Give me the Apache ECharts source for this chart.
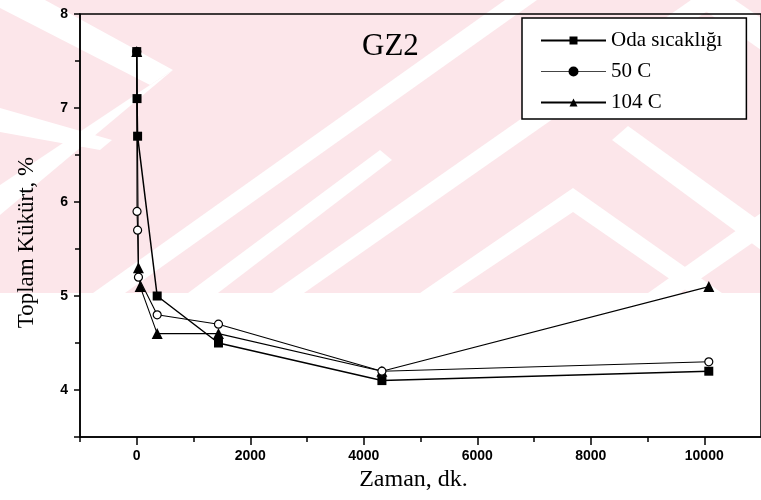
<!DOCTYPE html>
<html><head><meta charset="utf-8">
<script src="https://cdn.jsdelivr.net/npm/echarts@6/dist/echarts.min.js"></script>
<style>html,body{margin:0;padding:0;background:#fff}#c{width:761px;height:500px}</style>
</head><body><div id="c"></div>
<script>
// ---- data (time in minutes, total sulphur %) ----
const seriesNames = ['Oda sıcaklığı', '50 C', '104 C'];
const odaX  = [0, 5, 15, 360, 1440, 4320, 10080];
const odaY  = [7.6, 7.1, 6.7, 5.0, 4.5, 4.1, 4.2];
const c50X  = [0, 5, 15, 30, 360, 1440, 4320, 10080];
const c50Y  = [7.6, 5.9, 5.7, 5.2, 4.8, 4.7, 4.2, 4.3];
const c104X = [0, 30, 60, 360, 1440, 4320, 10080];
const c104Y = [7.6, 5.3, 5.1, 4.6, 4.6, 4.2, 5.1];
const xTickLabels = [0, 2000, 4000, 6000, 8000, 10000];
const xMinorTicks = [-1000, 1000, 3000, 5000, 7000, 9000];
const yTickLabels = [4, 5, 6, 7, 8];
const yMinorTicks = [3.5, 4.5, 5.5, 6.5, 7.5];
const titleText = 'GZ2';
const xName = 'Zaman, dk.';
const yName = 'Toplam Kükürt, %';

const pair = (xs, ys) => xs.map((x, i) => [x, ys[i]]);
const serif = '"Liberation Serif", "DejaVu Serif", serif';
const sans = '"Liberation Sans", Arial, sans-serif';

// watermark-like background bands (decoration only)
const pink = '#fce6ea';
function band(pts) { return { type: 'polygon', z: -10, silent: true, shape: { points: pts }, style: { fill: '#fff' } }; }
const deco = [
  { type: 'rect', z: -11, silent: true, shape: { x: 0, y: 0, width: 761, height: 293 }, style: { fill: pink } },
  band([[0,0],[45,0],[173,70],[150,85],[0,8]]),
  band([[150,85],[173,70],[0,215],[0,185]]),
  band([[0,108],[0,132],[100,150],[112,140]]),
  band([[93,293],[125,293],[537,0],[505,0]]),
  band([[188,293],[218,293],[392,160],[380,150]]),
  band([[272,293],[304,293],[723,0],[691,0]]),
  band([[420,293],[452,293],[573,212],[690,293],[722,293],[573,188]]),
  band([[612,140],[628,126],[761,222],[761,250]]),
  band([[648,293],[680,293],[761,237],[761,213]]),
  band([[690,0],[735,0],[761,18],[761,50]])
];

const chart = echarts.init(document.getElementById('c'), null, { renderer: 'canvas' });
const axisLineStyle = { color: '#000', width: 1.5 };
const plainNum = v => String(v);
chart.setOption({
  animation: false,
  backgroundColor: '#fff',
  graphic: deco,
  title: {
    text: titleText, left: 357, top: 26,
    textStyle: { fontFamily: serif, fontSize: 31, fontWeight: 'normal', color: '#000' }
  },
  legend: {
    orient: 'vertical', left: 522, top: 18,
    padding: [12, 24, 6, 18],
    itemWidth: 65, itemHeight: 10, itemGap: 10,
    backgroundColor: '#fff', borderColor: '#000', borderWidth: 1.5,
    textStyle: { fontFamily: serif, fontSize: 21, color: '#000', lineHeight: 20 },
    data: [
      { name: seriesNames[0] },
      { name: seriesNames[1], itemStyle: { color: '#000' }, lineStyle: { color: '#444', width: 1 } },
      { name: seriesNames[2] }
    ]
  },
  grid: { left: 80, right: -6, top: 14, bottom: 63, show: true, borderColor: '#000', borderWidth: 1.5, backgroundColor: 'transparent' },
  xAxis: [
    {
      type: 'value', min: -1000, max: 11000, position: 'bottom',
      name: xName, nameLocation: 'middle', nameGap: 28,
      nameTextStyle: { fontFamily: serif, fontSize: 24, color: '#000', padding: [0, 14, 0, 0] },
      axisLine: { onZero: false, lineStyle: axisLineStyle },
      axisTick: { customValues: xTickLabels, length: 8, lineStyle: { color: '#000', width: 1.5 } },
      axisLabel: { customValues: xTickLabels, formatter: plainNum, margin: 12, fontFamily: sans, fontWeight: 'bold', fontSize: 14, color: '#000' },
      splitLine: { show: false }
    },
    {
      type: 'value', min: -1000, max: 11000, position: 'bottom',
      axisLine: { show: false, onZero: false },
      axisTick: { customValues: xMinorTicks, length: 5, lineStyle: { color: '#000', width: 1.5 } },
      axisLabel: { show: false }, splitLine: { show: false }
    }
  ],
  yAxis: [
    {
      type: 'value', min: 3.5, max: 8, position: 'left',
      name: yName, nameLocation: 'middle', nameGap: 42,
      nameTextStyle: { fontFamily: serif, fontSize: 23, color: '#000', padding: [0, 34, 0, 0] },
      axisLine: { onZero: false, lineStyle: axisLineStyle },
      axisTick: { customValues: yTickLabels.concat([3.5]), length: 6, lineStyle: { color: '#000', width: 1.5 } },
      axisLabel: { customValues: yTickLabels, formatter: plainNum, margin: 12, fontFamily: sans, fontWeight: 'bold', fontSize: 14, color: '#000' },
      splitLine: { show: false }
    },
    {
      type: 'value', min: 3.5, max: 8, position: 'left',
      axisLine: { show: false, onZero: false },
      axisTick: { customValues: yMinorTicks, length: 5, lineStyle: { color: '#000', width: 1.5 } },
      axisLabel: { show: false }, splitLine: { show: false }
    }
  ],
  series: [
    {
      name: seriesNames[0], type: 'line', data: pair(odaX, odaY),
      symbol: 'rect', symbolSize: 9, z: 5,
      lineStyle: { color: '#000', width: 1.5 }, itemStyle: { color: '#000' }
    },
    {
      name: seriesNames[1], type: 'line', data: pair(c50X, c50Y),
      symbol: 'circle', symbolSize: 8, z: 4,
      lineStyle: { color: '#000', width: 1.1 },
      itemStyle: { color: '#fff', borderColor: '#000', borderWidth: 1.2 }
    },
    {
      name: seriesNames[2], type: 'line', data: pair(c104X, c104Y),
      symbol: 'triangle', symbolSize: 11, z: 3,
      lineStyle: { color: '#000', width: 1.1 }, itemStyle: { color: '#000' }
    }
  ]
});
</script></body></html>
